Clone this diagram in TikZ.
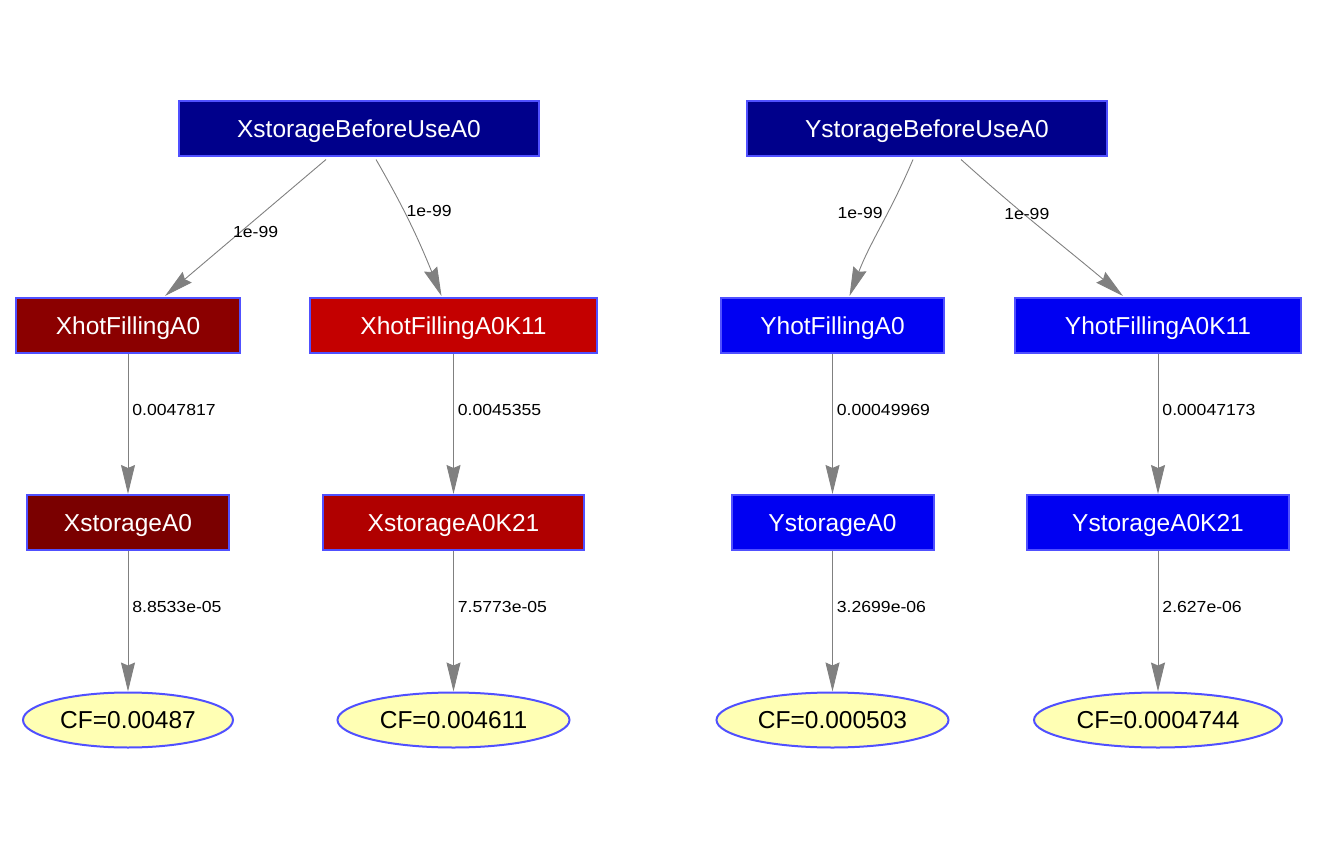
\documentclass[tikz,border=0pt]{standalone}
\usepackage{fontspec}
\setmainfont{Liberation Sans}
\newfontfamily\lblfont[FakeStretch=1.1]{Liberation Sans}
\usetikzlibrary{shapes.geometric,arrows.meta}
\definecolor{bordc}{HTML}{5050FF}
\definecolor{cbefore}{HTML}{00008B}
\definecolor{cxhot}{HTML}{8B0000}
\definecolor{cxhotk}{HTML}{C40000}
\definecolor{cxsto}{HTML}{7A0000}
\definecolor{cxstok}{HTML}{B00000}
\definecolor{cy}{HTML}{0000F2}
\definecolor{cell}{HTML}{FFFFB4}
\definecolor{cedge}{HTML}{808080}
\tikzset{
  box/.style={draw=bordc, line width=2pt, rectangle, inner sep=0pt, minimum height=55pt,
    text depth=0pt, text=white, font=\fontsize{24.5}{27}\selectfont},
  cf/.style={draw=bordc, line width=2pt, ellipse, fill=cell, inner sep=0pt, minimum height=55pt,
    text depth=0pt, text=black, font=\fontsize{24.5}{27}\selectfont},
  edge/.style={draw=cedge, line width=0.9pt, -{Stealth[length=29pt,width=14pt,inset=3pt]}},
  lbl/.style={font=\lblfont\fontsize{16}{18}\selectfont, text=black, inner sep=1pt},
}
\begin{document}
\begin{tikzpicture}[x=1pt,y=-1pt]
\useasboundingbox (0,0) rectangle (1317,850);
% top
\node[box, fill=cbefore, minimum width=360pt] (XB) at (359,129) {XstorageBeforeUseA0};
\node[box, fill=cbefore, minimum width=360pt] (YB) at (927,129) {YstorageBeforeUseA0};
% second row
\node[box, fill=cxhot, minimum width=224pt] (XH1) at (128,325.5) {XhotFillingA0};
\node[box, fill=cxhotk, minimum width=287pt] (XH2) at (453.5,325.5) {XhotFillingA0K11};
\node[box, fill=cy, minimum width=223pt] (YH1) at (832.5,325.5) {YhotFillingA0};
\node[box, fill=cy, minimum width=286pt] (YH2) at (1158,325.5) {YhotFillingA0K11};
% third row
\node[box, fill=cxsto, minimum width=202pt] (XS1) at (128,522.5) {XstorageA0};
\node[box, fill=cxstok, minimum width=261pt] (XS2) at (453.5,522.5) {XstorageA0K21};
\node[box, fill=cy, minimum width=202pt] (YS1) at (832.5,522.5) {YstorageA0};
\node[box, fill=cy, minimum width=262pt] (YS2) at (1158,522.5) {YstorageA0K21};
% ellipses
\node[cf, minimum width=210pt] (E1) at (128,720) {CF=0.00487};
\node[cf, minimum width=232pt] (E2) at (453.5,720) {CF=0.004611};
\node[cf, minimum width=232pt] (E3) at (832.5,720) {CF=0.000503};
\node[cf, minimum width=248pt] (E4) at (1158,720) {CF=0.0004744};
% top edges
\draw[edge] ([xshift=-33pt,yshift=-2pt]XB.south) -- node[lbl, pos=0.53, xshift=15pt] {1e-99} ([xshift=37pt,yshift=1pt]XH1.north);
\draw[edge] ([xshift=17pt,yshift=-2pt]XB.south) to[out=-60, in=112] node[lbl, pos=0.38, right, xshift=1pt] {1e-99} ([xshift=-12pt,yshift=1pt]XH2.north);
\draw[edge] ([xshift=-14pt,yshift=-2pt]YB.south) to[out=-113, in=69] node[lbl, pos=0.38, left, xshift=-4pt] {1e-99} ([xshift=17pt,yshift=1pt]YH1.north);
\draw[edge] ([xshift=34pt,yshift=-2pt]YB.south) to[out=-42, in=140] node[lbl, pos=0.35, xshift=8pt, yshift=-4pt] {1e-99} ([xshift=-35pt,yshift=1pt]YH2.north);
% vertical edges
\draw[edge] (XH1.south) -- node[lbl, pos=0.4, right, xshift=3pt] {0.0047817} (XS1.north);
\draw[edge] (XH2.south) -- node[lbl, pos=0.4, right, xshift=3pt] {0.0045355} (XS2.north);
\draw[edge] (YH1.south) -- node[lbl, pos=0.4, right, xshift=3pt] {0.00049969} (YS1.north);
\draw[edge] (YH2.south) -- node[lbl, pos=0.4, right, xshift=3pt] {0.00047173} (YS2.north);
\draw[edge] (XS1.south) -- node[lbl, pos=0.4, right, xshift=3pt] {8.8533e-05} (E1.north);
\draw[edge] (XS2.south) -- node[lbl, pos=0.4, right, xshift=3pt] {7.5773e-05} (E2.north);
\draw[edge] (YS1.south) -- node[lbl, pos=0.4, right, xshift=3pt] {3.2699e-06} (E3.north);
\draw[edge] (YS2.south) -- node[lbl, pos=0.4, right, xshift=3pt] {2.627e-06} (E4.north);
\end{tikzpicture}
\end{document}
